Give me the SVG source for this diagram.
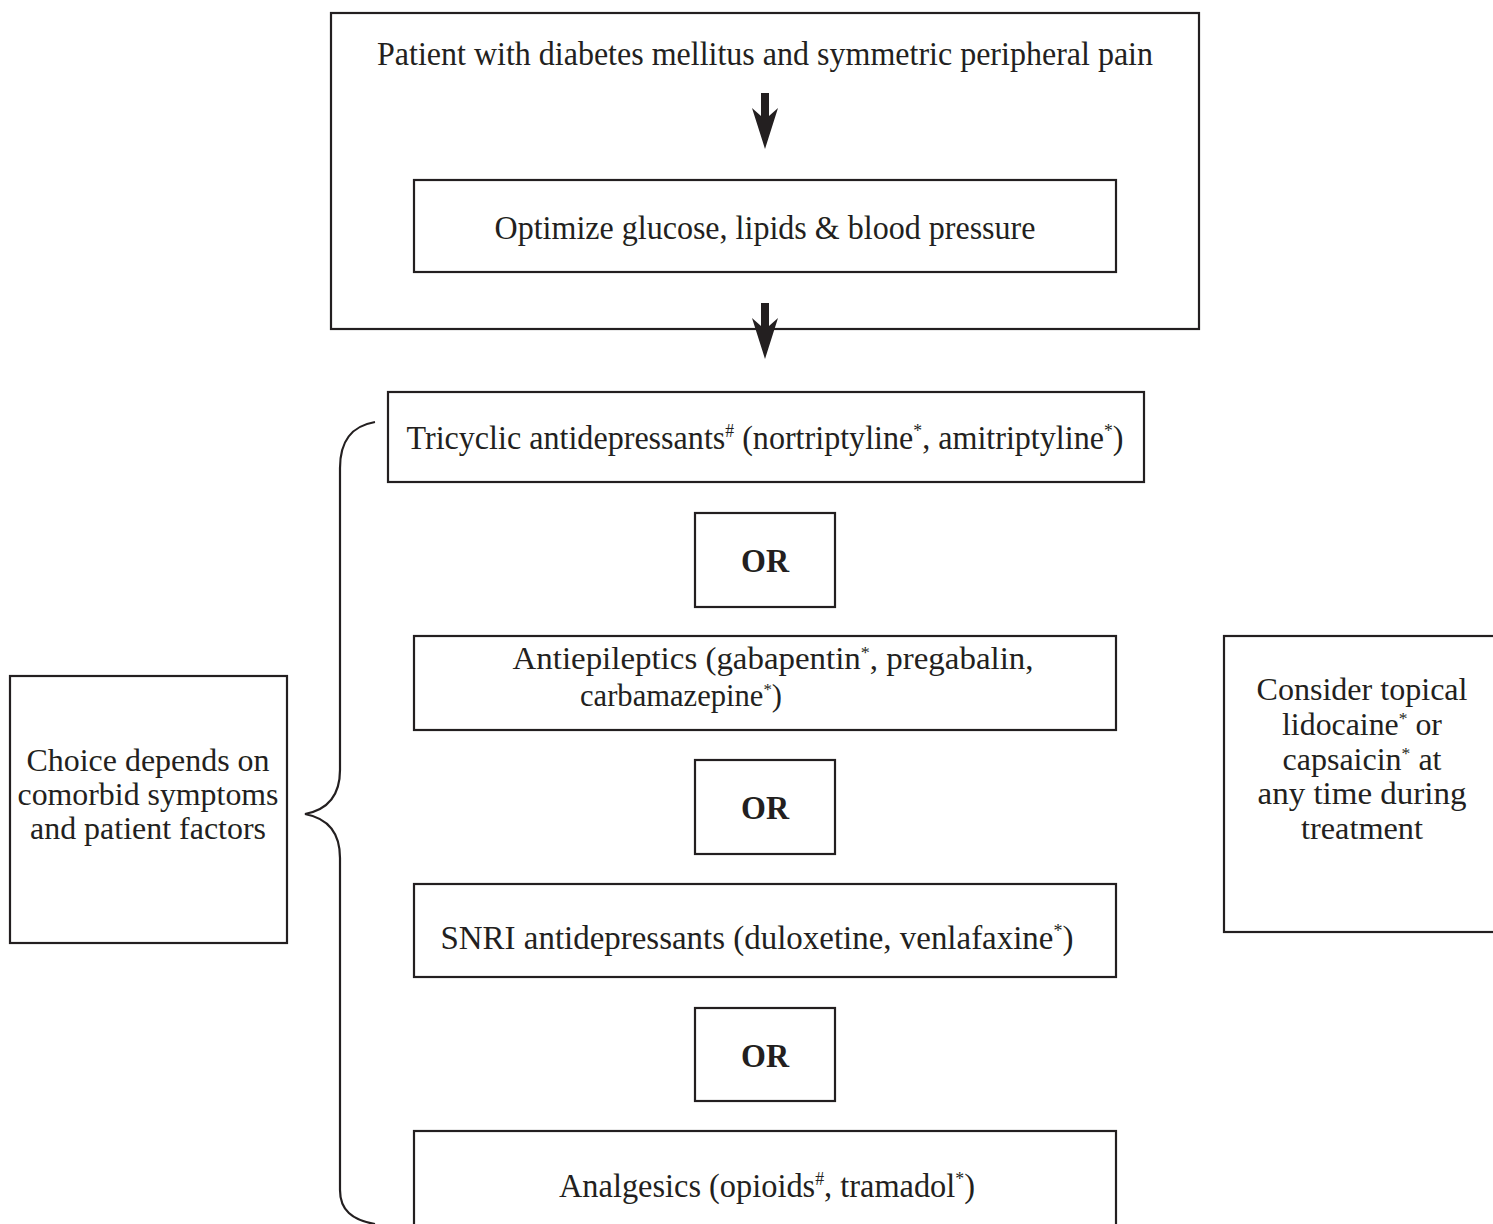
<svg xmlns="http://www.w3.org/2000/svg" width="1493" height="1224" viewBox="0 0 1493 1224">
<style>
.box{fill:#fff;stroke:#231f20;stroke-width:2.2}
.t{font-family:"Liberation Serif","Times New Roman",serif;font-size:33px;fill:#231f20;text-anchor:middle}
.t2{font-size:31px}
.n{font-family:"Liberation Serif","Times New Roman",serif;font-size:31px;fill:#231f20;text-anchor:middle}
.b{font-weight:bold}
.sup{font-size:55%}
.arrow{fill:#231f20}
.brace{fill:none;stroke:#231f20;stroke-width:2.2}
</style>
<rect width="1493" height="1224" fill="#fff"/>
<g id="n-start">
<rect class="box" x="331" y="13" width="868" height="316"/>
<text class="t" x="765" y="65" textLength="776" lengthAdjust="spacingAndGlyphs">Patient with diabetes mellitus and symmetric peripheral pain</text>
</g>
<g id="n-optimize">
<rect class="box" x="414" y="180" width="702" height="92"/>
<text class="t" x="765" y="239" textLength="541" lengthAdjust="spacingAndGlyphs">Optimize glucose, lipids &amp; blood pressure</text>
</g>
<g id="n-tca">
<rect class="box" x="388" y="392" width="756" height="90"/>
<text class="t" x="765" y="449" textLength="717" lengthAdjust="spacingAndGlyphs">Tricyclic antidepressants<tspan class="sup" dy="-12">#</tspan><tspan dy="12"> (nortriptyline</tspan><tspan class="sup" dy="-12">*</tspan><tspan dy="12">, amitriptyline</tspan><tspan class="sup" dy="-12">*</tspan><tspan dy="12">)</tspan></text>
</g>
<g id="n-or1">
<rect class="box" x="695" y="513" width="140" height="94"/>
<text class="t b" x="765" y="572" textLength="48" lengthAdjust="spacingAndGlyphs">OR</text>
</g>
<g id="n-aed">
<rect class="box" x="414" y="636" width="702" height="94"/>
<text class="t t2" x="773" y="669" textLength="521" lengthAdjust="spacingAndGlyphs">Antiepileptics (gabapentin<tspan class="sup" dy="-11">*</tspan><tspan dy="11">, pregabalin,</tspan></text>
<text class="t t2" x="681" y="706" textLength="202" lengthAdjust="spacingAndGlyphs">carbamazepine<tspan class="sup" dy="-11">*</tspan><tspan dy="11">)</tspan></text>
</g>
<g id="n-or2">
<rect class="box" x="695" y="760" width="140" height="94"/>
<text class="t b" x="765" y="819" textLength="48" lengthAdjust="spacingAndGlyphs">OR</text>
</g>
<g id="n-snri">
<rect class="box" x="414" y="884" width="702" height="93"/>
<text class="t" x="757" y="949" textLength="633" lengthAdjust="spacingAndGlyphs">SNRI antidepressants (duloxetine, venlafaxine<tspan class="sup" dy="-12">*</tspan><tspan dy="12">)</tspan></text>
</g>
<g id="n-or3">
<rect class="box" x="695" y="1008" width="140" height="93"/>
<text class="t b" x="765" y="1067" textLength="48" lengthAdjust="spacingAndGlyphs">OR</text>
</g>
<g id="n-analgesics">
<rect class="box" x="414" y="1131" width="702" height="100"/>
<text class="t" x="767" y="1197" textLength="416" lengthAdjust="spacingAndGlyphs">Analgesics (opioids<tspan class="sup" dy="-12">#</tspan><tspan dy="12">, tramadol</tspan><tspan class="sup" dy="-12">*</tspan><tspan dy="12">)</tspan></text>
</g>
<g id="n-choice">
<rect class="box" x="10" y="676" width="277" height="267"/>
<text class="n" x="148" y="771" textLength="243" lengthAdjust="spacingAndGlyphs">Choice depends on</text>
<text class="n" x="148" y="805" textLength="261" lengthAdjust="spacingAndGlyphs">comorbid symptoms</text>
<text class="n" x="148" y="839" textLength="236" lengthAdjust="spacingAndGlyphs">and patient factors</text>
</g>
<g id="n-topical">
<rect class="box" x="1224" y="636" width="280" height="296"/>
<text class="n" x="1362" y="700" textLength="211" lengthAdjust="spacingAndGlyphs">Consider topical</text>
<text class="n" x="1362" y="735" textLength="160" lengthAdjust="spacingAndGlyphs">lidocaine<tspan class="sup" dy="-11">*</tspan><tspan dy="11"> or</tspan></text>
<text class="n" x="1362" y="770" textLength="159" lengthAdjust="spacingAndGlyphs">capsaicin<tspan class="sup" dy="-11">*</tspan><tspan dy="11"> at</tspan></text>
<text class="n" x="1362" y="804" textLength="209" lengthAdjust="spacingAndGlyphs">any time during</text>
<text class="n" x="1362" y="839" textLength="122" lengthAdjust="spacingAndGlyphs">treatment</text>
</g>
<g id="connectors">
<polygon class="arrow" points="761,93 769,93 769,116 778,108 765,149 752,108 761,116"/>
<polygon class="arrow" points="761,303 769,303 769,326 778,318 765,359 752,318 761,326"/>
<path class="brace" d="M375,422 C352,426 340,440 340,468 L340,770 C340,798 326,810 305,814 C326,818 340,830 340,858 L340,1190 C340,1210 352,1220 375,1224"/>
</g>
</svg>
